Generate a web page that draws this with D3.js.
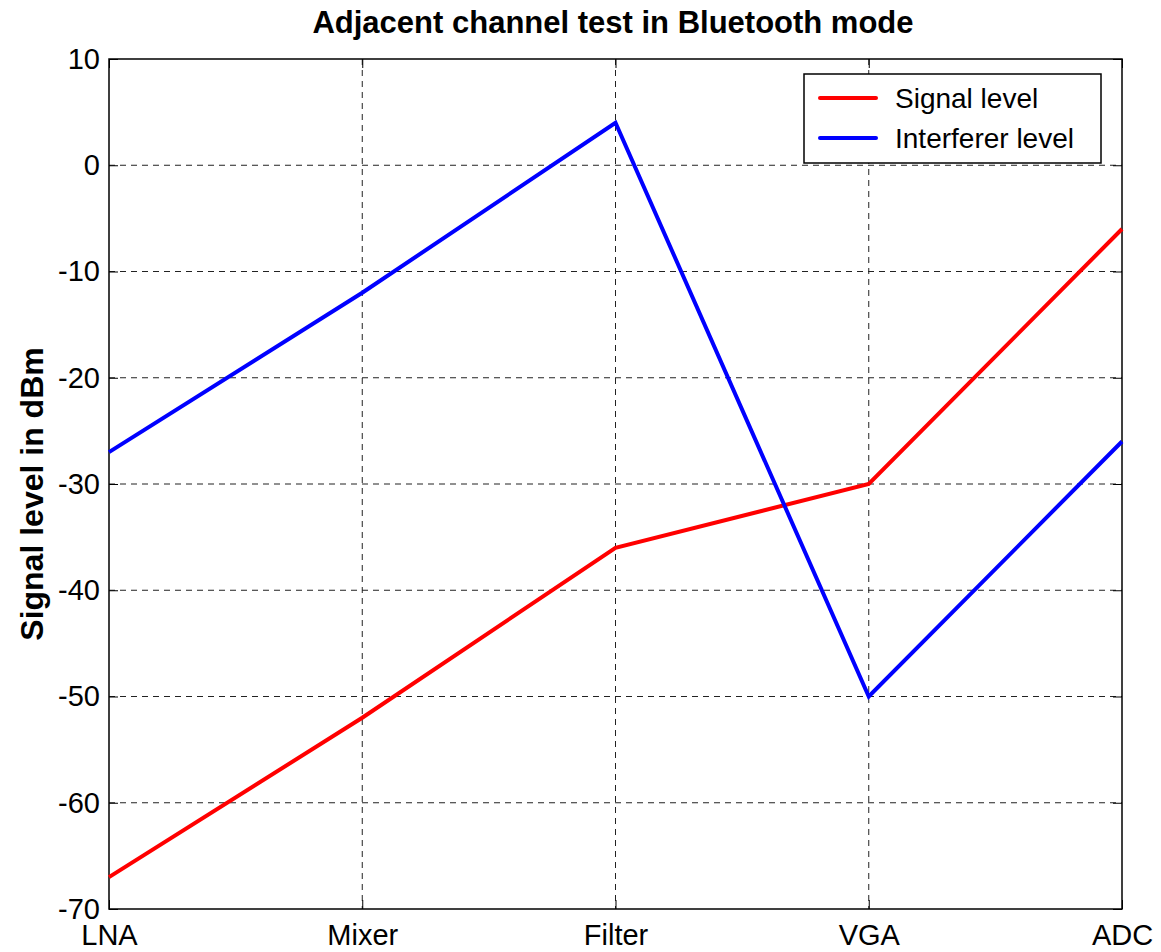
<!DOCTYPE html>
<html>
<head>
<meta charset="utf-8">
<script src="https://cdn.jsdelivr.net/npm/d3@7"></script>
<style>
  body { margin: 0; background: #fff; }
  text { font-family: "Liberation Sans", Arial, sans-serif; }
</style>
</head>
<body>
<div id="chart"></div>
<script>
const stages = ["LNA", "Mixer", "Filter", "VGA", "ADC"]
const signalLevel = [-67, -52, -36, -30, -6]
const interfererLevel = [-27, -12, 4, -50, -26]
const yTicks = [10, 0, -10, -20, -30, -40, -50, -60, -70]
const seriesNames = ["Signal level", "Interferer level"]
const seriesColors = ["#ff0000", "#0000ff"]

const width = 1161, height = 952
const margin = {left: 109, right: 39, top: 59, bottom: 43}

const svg = d3.select("#chart").append("svg")
  .attr("width", width).attr("height", height)

const x = d3.scalePoint().domain(stages).range([margin.left, width - margin.right])
const y = d3.scaleLinear().domain([-70, 10]).range([height - margin.bottom, margin.top])

// grid
const grid = svg.append("g")
grid.selectAll(".vg").data(stages.slice(1, -1)).enter().append("line")
  .attr("x1", d => x(d)).attr("x2", d => x(d))
  .attr("y1", y(10)).attr("y2", y(-70))
  .attr("stroke", "#222").attr("stroke-width", 1).attr("stroke-dasharray", "6,5")
grid.selectAll(".hg").data(yTicks.slice(1, -1)).enter().append("line")
  .attr("x1", x("LNA")).attr("x2", x("ADC"))
  .attr("y1", d => y(d)).attr("y2", d => y(d))
  .attr("stroke", "#222").attr("stroke-width", 1).attr("stroke-dasharray", "6,5")

// axes (inward ticks on all four sides, like matlab)
const fmt = d => String(d)
const styleAxis = g => {
  g.select(".domain").remove()
  g.selectAll("line").attr("stroke", "#000").attr("stroke-width", 1)
}
const yAxis = svg.append("g").attr("transform", `translate(${margin.left},0)`)
  .call(d3.axisLeft(y).tickValues(yTicks).tickFormat(fmt).tickSizeInner(-9).tickSizeOuter(0).tickPadding(9))
  .call(styleAxis)
yAxis.selectAll("text").attr("font-size", 29).attr("fill", "#000")
  .attr("font-family", "Liberation Sans, Arial, sans-serif")

svg.append("g").attr("transform", `translate(${width - margin.right},0)`)
  .call(d3.axisRight(y).tickValues(yTicks).tickFormat("").tickSizeInner(-9).tickSizeOuter(0))
  .call(styleAxis)

const xAxis = svg.append("g").attr("transform", `translate(0,${height - margin.bottom})`)
  .call(d3.axisBottom(x).tickSizeInner(-9).tickSizeOuter(0).tickPadding(15))
  .call(styleAxis)
xAxis.selectAll("text").attr("font-size", 29).attr("fill", "#000")
  .attr("font-family", "Liberation Sans, Arial, sans-serif")

svg.append("g").attr("transform", `translate(0,${margin.top})`)
  .call(d3.axisTop(x).tickFormat("").tickSizeInner(-9).tickSizeOuter(0))
  .call(styleAxis)

// box
svg.append("rect")
  .attr("x", margin.left).attr("y", margin.top)
  .attr("width", width - margin.left - margin.right)
  .attr("height", height - margin.top - margin.bottom)
  .attr("fill", "none").attr("stroke", "#000").attr("stroke-width", 1.5)

// lines
const line = d3.line().x((d, i) => x(stages[i])).y(d => y(d))
;[signalLevel, interfererLevel].forEach((s, i) => {
  svg.append("path").datum(s)
    .attr("d", line)
    .attr("fill", "none")
    .attr("stroke", seriesColors[i])
    .attr("stroke-width", 4)
    .attr("stroke-linejoin", "miter")
})

// legend
const lg = svg.append("g")
lg.append("rect").attr("x", 804).attr("y", 74).attr("width", 297).attr("height", 89)
  .attr("fill", "#fff").attr("stroke", "#000").attr("stroke-width", 1.5)
seriesNames.forEach((n, i) => {
  const cy = 98 + i * 40
  lg.append("line").attr("x1", 820).attr("x2", 876).attr("y1", cy).attr("y2", cy)
    .attr("stroke", seriesColors[i]).attr("stroke-width", 4).attr("stroke-linecap", "round")
  lg.append("text").attr("x", 895).attr("y", cy).attr("dy", "0.35em")
    .attr("font-size", 28).text(n)
})

// title
svg.append("text").attr("x", 613).attr("y", 33)
  .attr("text-anchor", "middle").attr("font-size", 31).attr("font-weight", "bold")
  .text("Adjacent channel test in Bluetooth mode")

// y label
svg.append("text")
  .attr("transform", `translate(43,${(margin.top + height - margin.bottom) / 2 + 10}) rotate(-90)`)
  .attr("text-anchor", "middle").attr("font-size", 32).attr("font-weight", "bold")
  .text("Signal level in dBm")
</script>
</body>
</html>
